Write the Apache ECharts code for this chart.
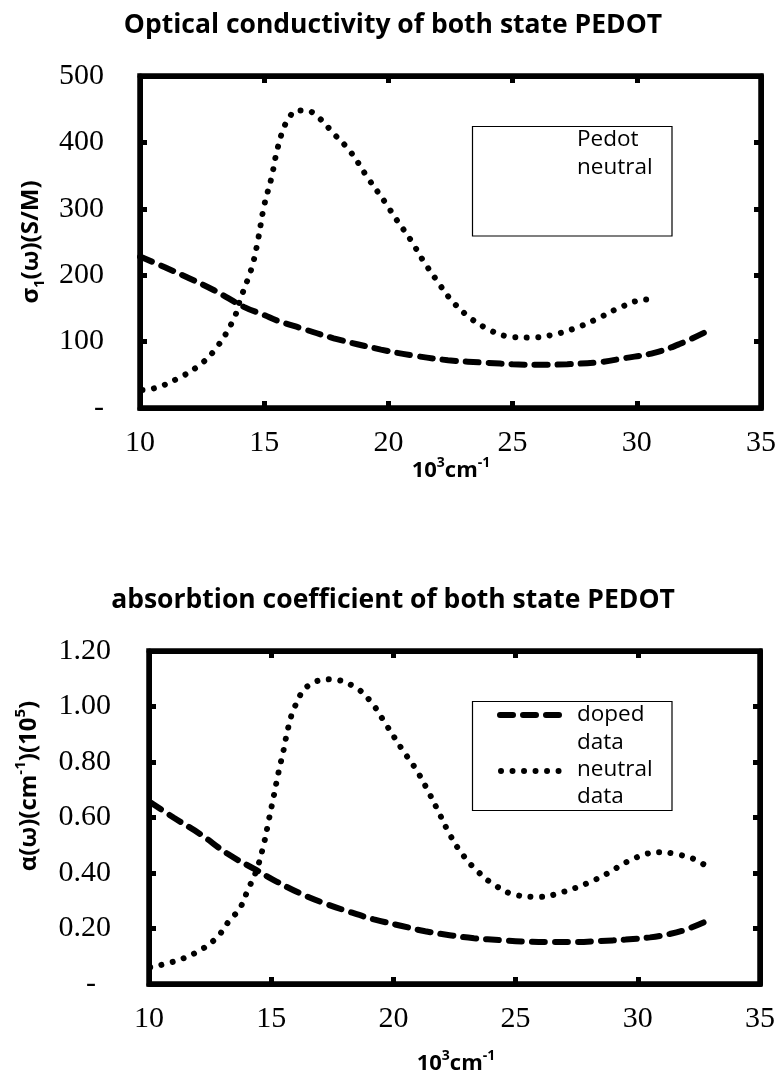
<!DOCTYPE html>
<html>
<head>
<meta charset="utf-8">
<script src="https://cdn.jsdelivr.net/npm/echarts@6/dist/echarts.min.js"></script>
<style>
html,body{margin:0;padding:0;background:#fff;}
#chart{width:779px;height:1077px;}
</style>
</head>
<body>
<div id="chart"></div>
<script>
// ---------- data ----------
const xTicks = [10, 15, 20, 25, 30, 35];
const yTicksTop = [0, 100, 200, 300, 400, 500];
const yTicksBottom = [0, 0.2, 0.4, 0.6, 0.8, 1.0, 1.2];

// Top chart: optical conductivity (S/M) vs wavenumber (10^3 cm^-1)
const topDopedX = [10, 11, 12, 13, 14.2, 15, 15.5, 16.5, 17.8, 19.7, 21, 22.4, 24, 25, 26, 27.2, 28.5, 29.5, 30.7, 31.7, 32.85];
const topDopedY = [228, 212, 195, 177, 152, 140, 132, 120, 105, 88, 79, 72, 68, 66, 65, 66, 69, 75, 83, 96, 116];

const topNeutralX = [10.1, 10.7, 11.5, 12.3, 13.0, 13.75, 14.05, 14.35, 14.55, 14.75, 15.0, 15.3, 15.5, 15.75, 16.0, 16.3, 16.7, 17.2, 17.8, 18.45, 19.2, 19.9, 20.3, 20.9, 21.4, 21.95, 22.5, 23.15, 23.95, 24.8, 25.75, 26.7, 27.65, 28.5, 29.3, 30.25, 30.8];
const topNeutralY = [27, 31, 44, 62, 87, 132, 165, 195, 218, 253, 305, 348, 385, 418, 437, 448, 448, 437, 413, 387, 345, 308, 285, 253, 222, 192, 164, 140, 120, 108, 106, 111, 122, 136, 151, 163, 164];

// Bottom chart: absorption coefficient (10^5 cm^-1)
const botDopedX = [10.05, 11, 12.1, 13.2, 14.4, 15.2, 16.2, 17.2, 18.2, 19.2, 20.3, 21.3, 22.3, 23.3, 24.4, 25.4, 26.4, 27.4, 28.45, 29.5, 30.5, 31.3, 31.9, 32.75];
const botDopedY = [0.655, 0.60, 0.54, 0.47, 0.41, 0.37, 0.326, 0.29, 0.26, 0.233, 0.21, 0.19, 0.176, 0.165, 0.158, 0.153, 0.151, 0.151, 0.155, 0.16, 0.168, 0.18, 0.194, 0.224];

const botNeutralX = [10.05, 11.2, 12.1, 12.8, 13.3, 13.7, 14.05, 14.4, 14.7, 14.9, 15.1, 15.3, 15.5, 15.7, 15.97, 16.5, 17.4, 18.35, 19.05, 19.7, 20.4, 20.95, 21.45, 21.85, 22.3, 22.8, 23.4, 24.15, 25.05, 26.0, 26.95, 27.9, 28.75, 29.55, 30.4, 30.9, 31.45, 32.25, 32.75];
const botNeutralY = [0.06, 0.086, 0.122, 0.17, 0.23, 0.27, 0.34, 0.41, 0.505, 0.59, 0.675, 0.763, 0.84, 0.925, 1.0, 1.074, 1.098, 1.074, 1.02, 0.935, 0.84, 0.77, 0.69, 0.62, 0.54, 0.47, 0.41, 0.356, 0.32, 0.314, 0.332, 0.362, 0.398, 0.44, 0.47, 0.475, 0.47, 0.452, 0.428];

const titles = ['Optical conductivity of both state PEDOT', 'absorbtion coefficient of both state PEDOT'];
const legendTop = ['Pedot', 'neutral'];
const legendBottom = ['doped', 'data', 'neutral', 'data'];

// ---------- helpers ----------
const zip = (xs, ys) => xs.map((x, i) => [x, ys[i]]);
const SANS = "'Open Sans', sans-serif";
const SERIF = "'Liberation Serif', 'Times New Roman', serif";

const axisLineStyle = { show: true, onZero: false, lineStyle: { color: '#000', width: 5 } };
const tickStyle = { show: true, inside: true, length: 7, lineStyle: { color: '#000', width: 5 } };

function xAxes(gi) {
  return [{
    gridIndex: gi, type: 'value', position: 'bottom', min: xTicks[0], max: xTicks[xTicks.length - 1], interval: 5,
    axisLine: axisLineStyle, axisTick: tickStyle, splitLine: { show: false },
    axisLabel: { show: true, color: '#000', fontFamily: SERIF, fontSize: 30, margin: 20 }
  }, {
    gridIndex: gi, type: 'value', position: 'top', min: xTicks[0], max: xTicks[xTicks.length - 1], interval: 5,
    axisLine: axisLineStyle, axisTick: tickStyle, splitLine: { show: false }, axisLabel: { show: false }
  }];
}
function yAxes(gi, ticks, fmt, margin) {
  const base = {
    gridIndex: gi, type: 'value', min: ticks[0], max: ticks[ticks.length - 1], interval: ticks[1] - ticks[0],
    axisLine: axisLineStyle, axisTick: tickStyle, splitLine: { show: false }
  };
  return [
    Object.assign({}, base, { position: 'left', axisLabel: { color: '#000', fontFamily: SERIF, fontSize: 30, margin: margin, formatter: fmt } }),
    Object.assign({}, base, { position: 'right', axisLabel: { show: false } })
  ];
}

const dashed = { color: '#000', width: 6, type: [13, 10], cap: 'round' };
const dotted = { color: '#000', width: 6, type: [0.01, 11.5], cap: 'round' };

const chart = echarts.init(document.getElementById('chart'), null, { renderer: 'canvas' });

function rich(size) {
  return {
    b: { fontFamily: SANS, fontWeight: 'bold', fontSize: size, lineHeight: size + 8, color: '#000' },
    sup: { fontFamily: SANS, fontWeight: 'bold', fontSize: Math.round(size * 0.62), lineHeight: size + 8, verticalAlign: 'top', color: '#000' },
    sub: { fontFamily: SANS, fontWeight: 'bold', fontSize: Math.round(size * 0.62), lineHeight: size + 8, verticalAlign: 'bottom', color: '#000' }
  };
}
const xName = '{b|10}{sup|3}{b|cm}{sup|-1}';

function textEl(text, x, y, size, opts) {
  return {
    type: 'text', x: x, y: y, z: 100,
    style: Object.assign({ text: text, fontFamily: SANS, fontSize: size, fill: '#000', align: 'left', verticalAlign: 'middle' }, opts || {})
  };
}

const graphics = [
  // titles
  textEl(titles[0], 393, 25, 26.5, { fontWeight: 'bold', align: 'center' }),
  textEl(titles[1], 393, 600, 26.5, { fontWeight: 'bold', align: 'center' }),
  // axis names
  { type: 'text', x: 451, y: 471, z: 100, style: { text: xName, rich: rich(22), align: 'center', verticalAlign: 'middle' } },
  { type: 'text', x: 456, y: 1064, z: 100, style: { text: xName, rich: rich(22), align: 'center', verticalAlign: 'middle' } },
  { type: 'text', x: 31, y: 242, rotation: Math.PI / 2, z: 100,
    style: { text: '{b|σ}{sub|1}{b|(ω)(S/M)}', rich: rich(24), align: 'center', verticalAlign: 'middle' } },
  { type: 'text', x: 29, y: 786, rotation: Math.PI / 2, z: 100,
    style: { text: '{b|α(ω)(cm}{sup|-1}{b|)(10}{sup|5}{b|)}', rich: rich(24), align: 'center', verticalAlign: 'middle' } },
  // top legend box
  { type: 'rect', z: 90, shape: { x: 472.5, y: 126.5, width: 199.5, height: 109.5 }, style: { fill: '#fff', stroke: '#000', lineWidth: 1.2 } },
  textEl(legendTop[0], 577, 140, 22.5),
  textEl(legendTop[1], 577, 168, 22.5),
  // bottom legend box
  { type: 'rect', z: 90, shape: { x: 472.5, y: 701.5, width: 199.5, height: 109 }, style: { fill: '#fff', stroke: '#000', lineWidth: 1.2 } },
  { type: 'line', z: 100, shape: { x1: 500, y1: 715, x2: 562, y2: 715 }, style: { stroke: '#000', lineWidth: 6, lineDash: [13, 10], lineCap: 'round' } },
  { type: 'line', z: 100, shape: { x1: 501, y1: 771, x2: 562, y2: 771 }, style: { stroke: '#000', lineWidth: 6, lineDash: [0.01, 11.5], lineCap: 'round' } },
  textEl(legendBottom[0], 577, 715, 22.5),
  textEl(legendBottom[1], 577, 743, 22.5),
  textEl(legendBottom[2], 577, 770, 22.5),
  textEl(legendBottom[3], 577, 797, 22.5)
];

const option = {
  animation: false,
  backgroundColor: '#fff',
  grid: [
    { left: 140, top: 76, width: 621, height: 332, show: false },
    { left: 149, top: 651, width: 611, height: 333, show: false }
  ],
  xAxis: [].concat(xAxes(0), xAxes(1)),
  yAxis: [].concat(
    yAxes(0, yTicksTop, v => (v === 0 ? '-' : String(v)), 36),
    yAxes(1, yTicksBottom, v => (v === 0 ? '-  ' : v.toFixed(2)), 38)
  ),
  series: [
    { name: 'doped data', type: 'line', xAxisIndex: 0, yAxisIndex: 0, data: zip(topDopedX, topDopedY), smooth: 0.4, symbol: 'none', lineStyle: dashed },
    { name: 'neutral data', type: 'line', xAxisIndex: 0, yAxisIndex: 0, data: zip(topNeutralX, topNeutralY), smooth: 0.4, symbol: 'none', lineStyle: dotted },
    { name: 'doped data', type: 'line', xAxisIndex: 2, yAxisIndex: 2, data: zip(botDopedX, botDopedY), smooth: 0.4, symbol: 'none', lineStyle: dashed },
    { name: 'neutral data', type: 'line', xAxisIndex: 2, yAxisIndex: 2, data: zip(botNeutralX, botNeutralY), smooth: 0.4, symbol: 'none', lineStyle: dotted }
  ],
  graphic: graphics
};
chart.setOption(option);

// Thick plot frames, placed from the axes' own scales
const frames = [
  { gridIndex: 0, yMin: yTicksTop[0], yMax: yTicksTop[yTicksTop.length - 1] },
  { gridIndex: 1, yMin: yTicksBottom[0], yMax: yTicksBottom[yTicksBottom.length - 1] }
].map(f => {
  const p0 = chart.convertToPixel({ gridIndex: f.gridIndex }, [xTicks[0], f.yMax]);
  const p1 = chart.convertToPixel({ gridIndex: f.gridIndex }, [xTicks[xTicks.length - 1], f.yMin]);
  return { type: 'rect', z: 80, silent: true,
    shape: { x: p0[0], y: p0[1], width: p1[0] - p0[0], height: p1[1] - p0[1] },
    style: { fill: 'none', stroke: '#000', lineWidth: 5.5, lineJoin: 'miter' } };
});
chart.setOption({ graphic: graphics.concat(frames) });
</script>
</body>
</html>
